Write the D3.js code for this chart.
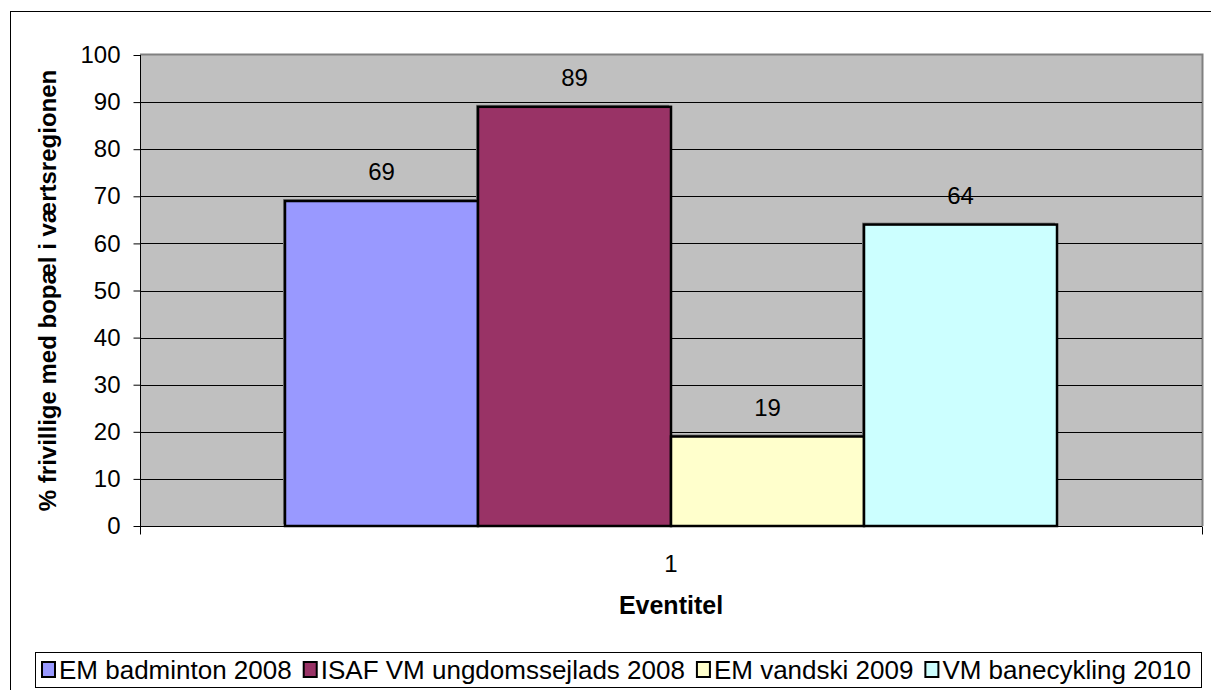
<!DOCTYPE html>
<html><head><meta charset="utf-8">
<script src="https://cdn.jsdelivr.net/npm/d3@7"></script>
<style>body{margin:0;background:#fff}svg{display:block;font-family:"Liberation Sans",Arial,sans-serif}</style>
</head><body><svg id="c" width="1211" height="690"></svg>
<script>
const categories = ["1"];
const seriesNames = ["EM badminton 2008","ISAF VM ungdomssejlads 2008","EM vandski 2009","VM banecykling 2010"];
const seriesValues = [69, 89, 19, 64];
const seriesColors = ["#9999FF","#993366","#FFFFCC","#CCFFFF"];
const yTicks = [0,10,20,30,40,50,60,70,80,90,100];

const svg = d3.select("#c");
// outer frame
svg.append("rect").attr("x",10.5).attr("y",11.5).attr("width",1230).attr("height",700)
  .attr("fill","#fff").attr("stroke","#000").attr("stroke-width",1);

const m = {l:140, t:55, r:1202, b:526};
const y = d3.scaleLinear().domain([0,100]).range([m.b, m.t]);
const x0 = d3.scaleBand().domain(categories).range([m.l, m.r]).paddingInner(0).paddingOuter(0.1878);
const x1 = d3.scaleBand().domain(seriesNames).range([0, x0.bandwidth()]);

// plot background
svg.append("rect").attr("x",m.l).attr("y",m.t).attr("width",m.r-m.l).attr("height",m.b-m.t)
  .attr("fill","#C0C0C0");
svg.append("path").attr("d",`M${m.l},${m.t-0.5}H${m.r+0.5}V${m.b}`).attr("fill","none")
  .attr("stroke","#808080").attr("stroke-width",2);
// gridlines
svg.append("g").selectAll("line").data(yTicks.filter(d=>d>0 && d<100)).join("line")
  .attr("x1",m.l).attr("x2",m.r).attr("y1",d=>Math.round(y(d))+0.5).attr("y2",d=>Math.round(y(d))+0.5)
  .attr("stroke","#000").attr("stroke-width",1);

// y axis
const yAxis = d3.axisLeft(y).tickValues(yTicks).tickSize(7).tickPadding(13);
const gy = svg.append("g").attr("transform",`translate(${m.l+0.5},0)`).call(yAxis);
gy.select(".domain").attr("stroke","#000").attr("d",`M0,${m.t}V${m.b}`);
gy.selectAll(".tick line").attr("stroke","#000");
gy.selectAll("text").attr("font-size",24).attr("fill","#000").attr("font-family","Liberation Sans, Arial, sans-serif");

// x axis
const gx = svg.append("g").attr("transform",`translate(0,${m.b+0.5})`);
gx.append("line").attr("x1",m.l).attr("x2",m.r).attr("stroke","#000");
[m.l, m.r].forEach(px=>gx.append("line").attr("x1",px+0.5).attr("x2",px+0.5).attr("y1",0).attr("y2",8).attr("stroke","#000"));
svg.append("g").selectAll("text").data(categories).join("text")
  .attr("x",d=>x0(d)+x0.bandwidth()/2).attr("y",572).attr("text-anchor","middle")
  .attr("font-size",24).text(d=>d);

// bars
const data = seriesNames.map((s,i)=>({s, v:seriesValues[i], c:seriesColors[i], cat:categories[0]}));
const bars = svg.append("g");
bars.selectAll("rect.shadow").data(data).join("rect")
  .attr("x",d=>x0(d.cat)+x1(d.s)-2).attr("y",d=>y(d.v)-2)
  .attr("width",x1.bandwidth()).attr("height",d=>m.b-y(d.v))
  .attr("fill","#808080");
bars.selectAll("rect.bar").data(data).join("rect")
  .attr("x",d=>x0(d.cat)+x1(d.s)).attr("y",d=>y(d.v))
  .attr("width",x1.bandwidth()).attr("height",d=>m.b-y(d.v))
  .attr("fill",d=>d.c).attr("stroke","#000").attr("stroke-width",2.5);
bars.selectAll("text").data(data).join("text")
  .attr("x",d=>x0(d.cat)+x1(d.s)+x1.bandwidth()/2).attr("y",d=>y(d.v)-21)
  .attr("text-anchor","middle").attr("font-size",24).text(d=>d.v);

// axis titles
svg.append("text").attr("transform",`translate(56,${(m.t+m.b)/2}) rotate(-90)`)
  .attr("text-anchor","middle").attr("font-size",24).attr("font-weight","bold")
  .text("% frivillige med bopæl i værtsregionen");
svg.append("text").attr("x",x0(categories[0])+x0.bandwidth()/2).attr("y",614)
  .attr("text-anchor","middle").attr("font-size",25).attr("font-weight","bold").text("Eventitel");

// legend
const lg = svg.append("g");
lg.append("rect").attr("x",35.5).attr("y",652.5).attr("width",1166).attr("height",35)
  .attr("fill","#fff").attr("stroke","#000");
let lx = 42;
seriesNames.forEach((s,i)=>{
  lg.append("rect").attr("x",lx).attr("y",662).attr("width",13).attr("height",15)
    .attr("fill",seriesColors[i]).attr("stroke","#000").attr("stroke-width",2);
  const t = lg.append("text").attr("x",lx+17).attr("y",679).attr("font-size",26).text(s);
  lx += 17 + t.node().getComputedTextLength() + 12;
});
</script></body></html>
